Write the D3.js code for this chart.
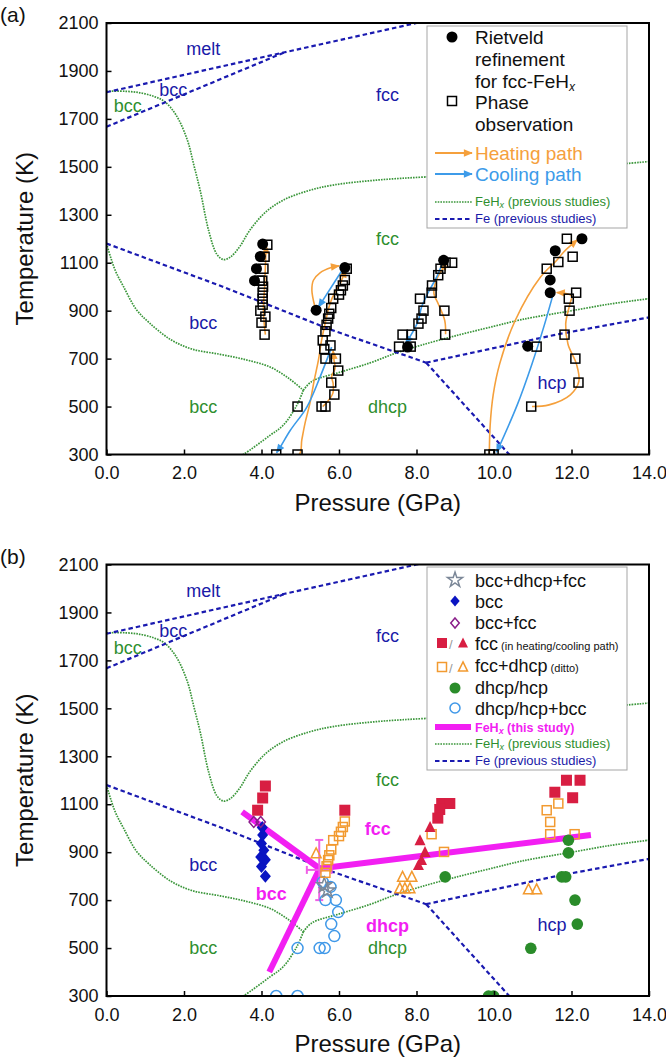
<!DOCTYPE html>
<html><head><meta charset="utf-8">
<script src="https://cdn.jsdelivr.net/npm/d3@7"></script>
<style>
body{margin:0;background:#fff}
svg{display:block}
text{font-family:"Liberation Sans",Arial,Helvetica,sans-serif}
</style>
</head><body>
<svg id="c" width="666" height="1058"></svg>
<script>
// ---------------- axis ticks ----------------
const pTicks=[0,2,4,6,8,10,12,14];
const tTicks=[300,500,700,900,1100,1300,1500,1700,1900,2100];

// ---------------- Fe (previous studies) boundaries [P GPa, T K] ----------------
const feMelt=[[0,1811],[4.6,1978],[8.0,2100],[8.6,2122]];
const feBccFccHigh=[[0,1667],[4.6,1978]];
const feBccFcc=[[0,1180],[3,1000],[5.8,820],[8.25,683]];
const feFccHcp=[[8.25,683],[11.6,800],[14,872]];
const feBccHcp=[[8.25,683],[10.45,290]];

// ---------------- FeHx (previous studies) boundaries ----------------
const fehxUpper=[[0,1815],[0.5,1815],[0.9,1808],[1.25,1792],[1.5,1772],[1.8,1715],[2.09,1610],[2.25,1510],[2.42,1400],[2.64,1232],[2.85,1135],[3.02,1113],[3.2,1124],[3.45,1170],[3.7,1236],[4.1,1310],[4.56,1361],[5.2,1400],[5.85,1424],[7.0,1445],[8.26,1458],[10.0,1472],[12.0,1495],[14,1522]];
const fehxLeft=[[0,1180],[0.22,1070],[0.44,1000],[0.77,905],[1.1,850],[1.65,780],[2.2,740],[2.93,718],[3.6,695],[4.22,665],[4.7,618],[5.08,568]];
const fehxBelow=[[5.08,568],[4.91,505],[4.56,422],[4.22,380],[3.53,300],[3.3,280]];
const fehxRight=[[5.08,568],[5.3,605],[6.0,642],[6.8,682],[7.5,725],[8.1,755],[9.0,795],[10.0,835],[10.58,858],[11.0,872],[11.87,896],[13.0,928],[14,950]];

// ---------------- region labels ----------------
const labelsBlue=[["melt",2.5,1990],["bcc",1.72,1822],["fcc",7.25,1800],["bcc",2.5,848],["hcp",11.5,598]];
const labelsGreen=[["bcc",0.55,1752],["fcc",7.25,1200],["bcc",2.5,500],["dhcp",7.25,500]];
const labelsMagenta=[["fcc",7.0,996],["bcc",4.25,727],["dhcp",7.25,594]];

// ---------------- panel (a) data ----------------
const rietveld=[[4.03,1178],[3.97,1126],[3.87,1075],[3.82,1025],[6.15,1080],[5.41,902],[8.7,1110],[7.77,748],[12.27,1200],[11.58,1150],[11.45,1028],[11.45,975],[10.87,752]];
const phaseObs=[
 [4.08,800],[4.0,850],[4.1,875],[3.97,900],[4.03,925],[4.03,950],[4.03,975],[4.04,1000],[3.95,1025],[4.02,1025],[4.05,1075],[4.08,1125],[4.15,1175],
 [6.2,1075],[6.15,1028],[6.1,1005],[6.05,985],[6.0,967],[5.85,950],[5.8,911],[5.75,887],[5.72,867],[5.68,841],[5.65,814],[5.58,776],[5.78,755],[5.62,740],[5.65,700],[5.92,700],[5.98,650],[5.8,600],[5.88,550],[5.55,500],[5.65,500],[4.93,500],[4.93,300],[4.38,300],
 [8.92,1100],[8.75,1100],[8.62,1075],[8.56,1048],[8.4,1005],[8.39,975],[8.09,950],[8.18,900],[8.72,900],[8.13,867],[8.05,846],[7.64,800],[7.88,800],[8.74,800],[7.55,750],[7.85,750],
 [11.88,1200],[12.03,1125],[11.66,1103],[11.36,1075],[12.12,975],[11.93,950],[11.95,900],[11.82,800],[12.1,700],[12.18,600],[10.96,500],[11.1,750],[9.88,300],[9.99,300]
];
const heatingPaths=[
 [[4.1,800],[4.05,900],[4.08,1000],[4.12,1172]],
 [[4.4,300],[4.97,300],[5.04,361],[5.12,428],[5.25,514],[5.36,609],[5.47,695],[5.55,776],[5.66,860],[5.77,930],[5.9,978],[6.03,1013],[6.17,1072]],
 [[5.58,500],[5.7,520],[5.84,555],[5.85,595],[5.81,625],[5.9,660],[5.87,695],[5.85,732]],
 [[5.38,915],[5.3,985],[5.34,1027],[5.51,1058],[5.8,1080],[6.0,1087]],
 [[8.75,802],[8.73,858],[8.56,929],[8.45,971],[8.51,1027],[8.66,1070],[8.78,1103]],
 [[9.88,300],[9.9,420],[9.98,550],[10.15,680],[10.55,860],[11.2,1040],[11.62,1110],[11.8,1145],[12.15,1195]],
 [[10.98,500],[11.42,507],[11.97,549],[12.19,605],[12.13,676],[11.91,760],[11.85,845],[11.96,929],[12.0,962],[11.62,976]]
];
const coolingPaths=[
 [[5.81,748],[5.51,623],[5.17,498],[4.74,400],[4.48,330],[4.39,308]],
 [[6.11,1076],[5.47,915]],
 [[8.68,1103],[8.52,1040],[8.3,975],[8.13,915],[8.05,860],[7.9,810],[7.72,762]],
 [[11.53,971],[11.31,846],[10.98,678],[10.6,507],[10.07,310]]
];

// ---------------- panel (b) data ----------------
const bccDhcpFcc=[[5.62,762],[5.7,740]];
const bccPts=[[4.1,800],[4.0,840],[4.1,868],[3.98,880],[4.06,908],[4.0,936],[4.03,972],[4.02,1003]];
const bccFcc=[[3.8,1026],[3.98,1026]];
const fccHeat=[[3.9,1075],[4.03,1126],[4.1,1176],[6.15,1075],[8.65,1103],[8.86,1103],[8.6,1078],[8.55,1042],[11.87,1200],[12.22,1200],[11.57,1150],[12.03,1127]];
const fccCool=[[8.35,1005],[8.09,950],[8.22,901],[8.13,867],[8.05,846]];
const fccDhcpHeat=[[6.15,1028],[6.1,1005],[6.05,985],[6.0,967],[5.85,950],[5.8,911],[5.75,887],[5.72,867],[5.68,841],[5.65,814],[8.39,975],[8.71,901],[11.66,1103],[11.36,1075],[11.45,1026],[11.45,975],[12.08,975]];
const fccDhcpCool=[[5.41,895],[7.64,797],[7.88,797],[7.57,749],[7.7,749],[7.83,749],[10.89,745],[11.1,745]];
const dhcpHcp=[[8.74,797],[11.92,950],[11.92,897],[11.75,797],[11.85,797],[12.09,700],[12.15,600],[10.95,499],[9.86,300],[9.99,300]];
const dhcpHcpBcc=[[5.58,776],[5.78,755],[5.65,700],[5.92,700],[5.98,650],[5.8,600],[5.88,550],[5.5,500],[5.63,500],[4.93,500],[4.93,300],[4.38,300]];
const thisStudy=[
 [[3.5,1068],[5.5,832]],
 [[5.5,832],[4.2,400]],
 [[5.5,832],[12.5,972]]
];
const errCenter=[5.49,826], errT=[700,951], errP=[5.17,5.81];

// ---------------- colours ----------------
const COL={feBlue:'#1a1ab0',green:'#3a963a',lblBlue:'#1a1aa8',lblGreen:'#2f8f2f',orange:'#f5a03c',cool:'#3d9be9',
 red:'#d81e42',oOrange:'#f29a30',dGreen:'#2a8c2a',oBlue:'#3f98e8',diamond:'#0a14c2',purple:'#8a1f8a',star:'#7c8898',magenta:'#f21ff2',err:'#f05fe6'};

const svg=d3.select('#c');
const X=d3.scaleLinear().domain([0,14]).range([106.5,649]);

const defs=svg.append('defs');
function arrowMarker(id,color){
  defs.append('marker').attr('id',id).attr('viewBox','0 0 10 10').attr('refX',9).attr('refY',5)
   .attr('markerWidth',10).attr('markerHeight',9).attr('markerUnits','userSpaceOnUse').attr('orient','auto')
   .append('path').attr('d','M0,0.8L10,5L0,9.2Z').attr('fill',color);
}
arrowMarker('ahO',COL.orange);arrowMarker('ahC',COL.cool);

function triPath(cx,cy,s){const h=s*0.9;return `M${cx},${cy-h/2-1}L${cx+s/2},${cy+h/2}L${cx-s/2},${cy+h/2}Z`;}
function diaPath(cx,cy,s){return `M${cx},${cy-s/2}L${cx+s/2*0.85},${cy}L${cx},${cy+s/2}L${cx-s/2*0.85},${cy}Z`;}

function makePanel(top,bottom,id,letter){
  const Y=d3.scaleLinear().domain([300,2100]).range([bottom,top]);
  const g=svg.append('g');
  defs.append('clipPath').attr('id','clip'+id).append('rect')
    .attr('x',X(0)).attr('y',top).attr('width',X(14)-X(0)).attr('height',bottom-top);
  const plot=g.append('g').attr('clip-path',`url(#clip${id})`);
  const lin=d3.line().x(d=>X(d[0])).y(d=>Y(d[1]));
  const smooth=d3.line().x(d=>X(d[0])).y(d=>Y(d[1])).curve(d3.curveCatmullRom.alpha(0.5));
  [fehxUpper,fehxLeft,fehxBelow,fehxRight].forEach(a=>plot.append('path').attr('d',smooth(a))
    .attr('fill','none').attr('stroke',COL.green).attr('stroke-width',1.7).attr('stroke-dasharray','1.6,1.1'));
  [feMelt,feBccFccHigh,feBccFcc,feFccHcp,feBccHcp].forEach(a=>plot.append('path').attr('d',lin(a))
    .attr('fill','none').attr('stroke',COL.feBlue).attr('stroke-width',2.2).attr('stroke-dasharray','4.5,3'));
  const lbl=(arr,color,weight)=>arr.forEach(([t,p,T])=>g.append('text').attr('x',X(p)).attr('y',Y(T))
    .attr('text-anchor','middle').attr('dominant-baseline','central').attr('font-size',18)
    .attr('font-weight',weight).attr('fill',color).text(t));
  lbl(labelsBlue,COL.lblBlue,'normal');lbl(labelsGreen,COL.lblGreen,'normal');
  const ax=g.append('g').attr('transform',`translate(0,${bottom})`)
    .call(d3.axisBottom(X).tickValues(pTicks).tickFormat(d3.format('.1f')).tickSize(-5).tickPadding(12));
  const ay=g.append('g').attr('transform',`translate(${X(0)},0)`)
    .call(d3.axisLeft(Y).tickValues(tTicks).tickFormat(d3.format('d')).tickSize(-5).tickPadding(8));
  [ax,ay].forEach(a=>{a.select('.domain').remove();a.selectAll('line').attr('stroke','#000').attr('stroke-width',1.5);
    a.selectAll('text').attr('font-size',18).attr('fill','#111').attr('font-family','"Liberation Sans",Arial,sans-serif');});
  g.append('rect').attr('x',X(0)).attr('y',top).attr('width',X(14)-X(0)).attr('height',bottom-top)
    .attr('fill','none').attr('stroke','#000').attr('stroke-width',2);
  g.append('text').attr('x',(X(0)+X(14))/2).attr('y',bottom+56).attr('text-anchor','middle')
    .attr('font-size',24).attr('fill','#111').text('Pressure (GPa)');
  g.append('text').attr('transform',`translate(33,${(top+bottom)/2}) rotate(-90)`).attr('text-anchor','middle')
    .attr('font-size',24).attr('fill','#111').text('Temperature (K)');
  g.append('text').attr('x',0).attr('y',top-1).attr('font-size',21).attr('fill','#111').text(letter);
  return {g,plot,Y,lin,smooth};
}

// ================= Panel (a) =================
{
  const {g,plot,Y,smooth}=makePanel(23,454.5,'a','(a)');
  heatingPaths.forEach(a=>plot.append('path').attr('d',smooth(a)).attr('fill','none')
    .attr('stroke',COL.orange).attr('stroke-width',1.6).attr('marker-end','url(#ahO)'));
  coolingPaths.forEach(a=>plot.append('path').attr('d',smooth(a)).attr('fill','none')
    .attr('stroke',COL.cool).attr('stroke-width',1.6).attr('marker-end','url(#ahC)'));
  plot.selectAll('rect.obs').data(phaseObs).enter().append('rect').attr('class','obs')
    .attr('x',d=>X(d[0])-4.5).attr('y',d=>Y(d[1])-4.5).attr('width',9).attr('height',9)
    .attr('fill','none').attr('stroke','#000').attr('stroke-width',1.5);
  plot.selectAll('circle.rv').data(rietveld).enter().append('circle').attr('class','rv')
    .attr('cx',d=>X(d[0])).attr('cy',d=>Y(d[1])).attr('r',5.5).attr('fill','#000');
  const L=g.append('g');
  L.append('rect').attr('x',427).attr('y',26).attr('width',200).attr('height',202).attr('fill','#fff').attr('stroke','#a5a5a5').attr('stroke-width',1);
  L.append('circle').attr('cx',452).attr('cy',37).attr('r',5.5).attr('fill','#000');
  L.append('rect').attr('x',447.5).attr('y',96.5).attr('width',9).attr('height',9).attr('fill','none').attr('stroke','#000').attr('stroke-width',1.5);
  const t=(y,txt,c,fs)=>L.append('text').attr('x',475).attr('y',y).attr('font-size',fs||19).attr('fill',c||'#111').text(txt);
  t(44,'Rietveld');t(66,'refinement');
  const f=t(88,'for fcc-FeH');f.append('tspan').attr('font-size',12).attr('font-style','italic').attr('dy',3).text('x');
  t(109,'Phase');t(131,'observation');
  L.append('line').attr('x1',435).attr('x2',472).attr('y1',153).attr('y2',153).attr('stroke',COL.orange).attr('stroke-width',1.8).attr('marker-end','url(#ahO)');
  t(160,'Heating path',COL.orange);
  L.append('line').attr('x1',435).attr('x2',472).attr('y1',174).attr('y2',174).attr('stroke',COL.cool).attr('stroke-width',1.8).attr('marker-end','url(#ahC)');
  t(181,'Cooling path',COL.cool);
  L.append('line').attr('x1',435).attr('x2',472).attr('y1',202).attr('y2',202).attr('stroke',COL.green).attr('stroke-width',1.7).attr('stroke-dasharray','1.6,1.1');
  const g1=t(206,'FeH',COL.lblGreen,13);g1.append('tspan').attr('font-size',9).attr('font-style','italic').attr('dy',2).text('x');g1.append('tspan').attr('dy',-2).text(' (previous studies)');
  L.append('line').attr('x1',435).attr('x2',472).attr('y1',219).attr('y2',219).attr('stroke',COL.feBlue).attr('stroke-width',2.2).attr('stroke-dasharray','4.5,3');
  t(223,'Fe (previous studies)',COL.lblBlue,13);
}

// ================= Panel (b) =================
{
  const {g,plot,Y,lin}=makePanel(564.5,996,'b','(b)');
  thisStudy.forEach(a=>plot.append('path').attr('d',lin(a)).attr('fill','none').attr('stroke',COL.magenta).attr('stroke-width',6));
  const ex=X(errCenter[0]),ey=Y(errCenter[1]);
  plot.append('line').attr('x1',ex).attr('x2',ex).attr('y1',Y(errT[0])).attr('y2',Y(errT[1])).attr('stroke',COL.err).attr('stroke-width',2);
  [errT[0],errT[1]].forEach(T=>plot.append('line').attr('x1',ex-4).attr('x2',ex+4).attr('y1',Y(T)).attr('y2',Y(T)).attr('stroke',COL.err).attr('stroke-width',2));
  plot.append('line').attr('x1',X(errP[0])).attr('x2',X(errP[1])).attr('y1',ey).attr('y2',ey).attr('stroke',COL.err).attr('stroke-width',2);
  [errP[0],errP[1]].forEach(P=>plot.append('line').attr('x1',X(P)).attr('x2',X(P)).attr('y1',ey-4).attr('y2',ey+4).attr('stroke',COL.err).attr('stroke-width',2));
  labelsMagenta.forEach(([t,p,T])=>g.append('text').attr('x',X(p)).attr('y',Y(T)).attr('text-anchor','middle')
    .attr('dominant-baseline','central').attr('font-size',18).attr('font-weight','bold').attr('fill',COL.magenta).text(t));
  plot.selectAll('path.bcc').data(bccPts).enter().append('path').attr('d',d=>diaPath(X(d[0]),Y(d[1]),13)).attr('fill',COL.diamond);
  plot.selectAll('path.bf').data(bccFcc).enter().append('path').attr('d',d=>diaPath(X(d[0]),Y(d[1]),11)).attr('fill','none').attr('stroke',COL.purple).attr('stroke-width',1.5);
  plot.selectAll('circle.hb').data(dhcpHcpBcc).enter().append('circle').attr('cx',d=>X(d[0])).attr('cy',d=>Y(d[1])).attr('r',5.5).attr('fill','none').attr('stroke',COL.oBlue).attr('stroke-width',1.5);
  const star=d3.symbol().type(d3.symbolStar).size(70);
  plot.selectAll('path.st').data(bccDhcpFcc).enter().append('path').attr('transform',d=>`translate(${X(d[0])},${Y(d[1])})`).attr('d',star).attr('fill','none').attr('stroke',COL.star).attr('stroke-width',1.5);
  plot.selectAll('rect.fd').data(fccDhcpHeat).enter().append('rect').attr('x',d=>X(d[0])-4.5).attr('y',d=>Y(d[1])-4.5).attr('width',9).attr('height',9).attr('fill','none').attr('stroke',COL.oOrange).attr('stroke-width',1.5);
  plot.selectAll('path.fdc').data(fccDhcpCool).enter().append('path').attr('d',d=>triPath(X(d[0]),Y(d[1]),10)).attr('fill','none').attr('stroke',COL.oOrange).attr('stroke-width',1.5);
  plot.selectAll('rect.fh').data(fccHeat).enter().append('rect').attr('x',d=>X(d[0])-5.5).attr('y',d=>Y(d[1])-5.5).attr('width',11).attr('height',11).attr('fill',COL.red);
  plot.selectAll('path.fc').data(fccCool).enter().append('path').attr('d',d=>triPath(X(d[0]),Y(d[1]),11)).attr('fill',COL.red);
  plot.selectAll('circle.dh').data(dhcpHcp).enter().append('circle').attr('cx',d=>X(d[0])).attr('cy',d=>Y(d[1])).attr('r',5.8).attr('fill',COL.dGreen);
  const L=g.append('g');
  L.append('rect').attr('x',427).attr('y',567).attr('width',200).attr('height',203).attr('fill','#fff').attr('stroke','#a5a5a5').attr('stroke-width',1);
  const t=(y,txt,c,fs)=>L.append('text').attr('x',475).attr('y',y).attr('font-size',fs||18).attr('fill',c||'#111').text(txt);
  L.append('path').attr('transform','translate(455,580)').attr('d',star).attr('fill','none').attr('stroke',COL.star).attr('stroke-width',1.5);
  t(587,'bcc+dhcp+fcc');
  L.append('path').attr('d',diaPath(455,601,11)).attr('fill',COL.diamond);t(608,'bcc');
  L.append('path').attr('d',diaPath(455,623,10)).attr('fill','none').attr('stroke',COL.purple).attr('stroke-width',1.5);t(629,'bcc+fcc');
  L.append('rect').attr('x',437).attr('y',638).attr('width',10).attr('height',10).attr('fill',COL.red);
  L.append('text').attr('x',449).attr('y',649).attr('font-size',13).attr('fill','#999').text('/');
  L.append('path').attr('d',triPath(463,643,10)).attr('fill',COL.red);
  const fc=t(650,'fcc');fc.append('tspan').attr('font-size',11).text(' (in heating/cooling path)');
  L.append('rect').attr('x',437.5).attr('y',662.5).attr('width',9).attr('height',9).attr('fill','none').attr('stroke',COL.oOrange).attr('stroke-width',1.5);
  L.append('text').attr('x',449).attr('y',673).attr('font-size',13).attr('fill','#999').text('/');
  L.append('path').attr('d',triPath(463,667,9)).attr('fill','none').attr('stroke',COL.oOrange).attr('stroke-width',1.5);
  const fd=t(672,'fcc+dhcp');fd.append('tspan').attr('font-size',11).text(' (ditto)');
  L.append('circle').attr('cx',455).attr('cy',688).attr('r',5.5).attr('fill',COL.dGreen);t(694,'dhcp/hcp');
  L.append('circle').attr('cx',455).attr('cy',708).attr('r',5).attr('fill','none').attr('stroke',COL.oBlue).attr('stroke-width',1.5);t(715,'dhcp/hcp+bcc');
  L.append('line').attr('x1',435).attr('x2',471).attr('y1',727).attr('y2',727).attr('stroke',COL.magenta).attr('stroke-width',6);
  const m=t(732,'FeH',COL.magenta,12.5);m.attr('font-weight','bold');m.append('tspan').attr('font-size',9).attr('font-style','italic').attr('dy',2).text('x');m.append('tspan').attr('dy',-2).text(' (this study)');
  L.append('line').attr('x1',435).attr('x2',472).attr('y1',744).attr('y2',744).attr('stroke',COL.green).attr('stroke-width',1.7).attr('stroke-dasharray','1.6,1.1');
  const g1=t(748,'FeH',COL.lblGreen,13);g1.append('tspan').attr('font-size',9).attr('font-style','italic').attr('dy',2).text('x');g1.append('tspan').attr('dy',-2).text(' (previous studies)');
  L.append('line').attr('x1',435).attr('x2',472).attr('y1',761).attr('y2',761).attr('stroke',COL.feBlue).attr('stroke-width',2.2).attr('stroke-dasharray','4.5,3');
  t(765,'Fe (previous studies)',COL.lblBlue,13);
}
</script>
</body></html>
